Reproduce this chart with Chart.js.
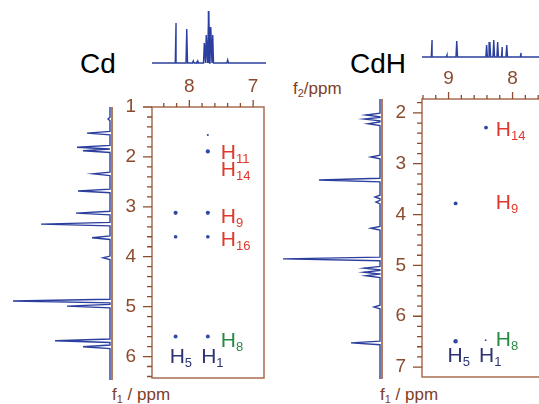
<!DOCTYPE html>
<html lang="en">
<head>
    <meta charset="UTF-8">
    <title>Cd / CdH 2D NMR</title>
    <script src="https://cdn.jsdelivr.net/npm/chart.js@4.4.0/dist/chart.umd.min.js"></script>
    <style>
        html, body {
            margin: 0;
            padding: 0;
            width: 539px;
            height: 404px;
            overflow: hidden;
            background: #fff;
            font-family: "Liberation Sans", Arial, Helvetica, sans-serif;
        }
        canvas, .txt {
            position: absolute;
        }
        .txt {
            line-height: 1;
            white-space: nowrap;
        }
        .title {
            font-size: 28px;
            color: #000;
        }
        .axis-title {
            font-size: 17px;
            color: #7d4026;
        }
        .axis-title sub {
            font-size: 11px;
            vertical-align: -3px;
        }
    </style>
</head>
<body>
    <div class="txt title" style="left:80px; top:50px;">Cd</div>
    <div class="txt title" style="left:350px; top:50px;">CdH</div>
    <div class="txt axis-title" style="left:293px; top:80px;">f<sub>2</sub>/ppm</div>
    <div class="txt axis-title" style="left:112px; top:386px;">f<sub>1</sub> / ppm</div>
    <div class="txt axis-title" style="left:380px; top:386px;">f<sub>1</sub> / ppm</div>

    <script>
        // ---- Cd panel ----
        var cdF2Range = [6.83, 8.585];
        var cdF1Range = [1, 6.43];
        var cdF2Ticks = [7, 8];
        var cdF1Ticks = [1, 2, 3, 4, 5, 6];

        // 1D projection along f2 (top)
        var cdTopShift = [8.215, 8.05, 7.95, 7.88, 7.78, 7.75, 7.72, 7.71, 7.68, 7.65, 7.42];
        var cdTopInt = [40, 34, 2, 2, 20, 28, 40, 52, 36, 28, 3];
        // 1D projection along f1 (left)
        var cdSideShift = [1.24, 1.52, 1.80, 1.87, 2.33, 2.67, 3.11, 3.33, 3.60, 4.00, 4.86, 4.96, 5.65, 5.77];
        var cdSideInt = [2, 23, 33, 27, 17, 32, 34, 69, 18, 7, 97, 43, 55, 27];

        // cross peaks
        var cdCrossF2 = [7.71, 7.71, 8.215, 7.71, 8.215, 7.71, 8.215, 7.71];
        var cdCrossF1 = [1.56, 1.89, 3.12, 3.12, 3.60, 3.60, 5.60, 5.60];
        var cdCrossInt = [0.2, 1, 1, 1, 0.8, 0.8, 0.9, 0.9];

        // assignments
        var cdLabelSub = ['11', '14', '9', '16', '8', '5', '1'];
        var cdLabelF2 = [7.508, 7.508, 7.508, 7.508, 7.508, 8.308, 7.815];
        var cdLabelF1 = [2.05, 2.39, 3.32, 3.78, 5.80, 6.13, 6.13];
        var cdLabelKind = ['red', 'red', 'red', 'red', 'green', 'navy', 'navy'];

        // ---- CdH panel ----
        var cdhF2Range = [7.29, 9.415];
        var cdhF1Range = [1.727, 7.195];
        var cdhF2Ticks = [8, 9];
        var cdhF1Ticks = [2, 3, 4, 5, 6, 7];

        var cdhTopShift = [9.26, 9.03, 8.88, 8.42, 8.37, 8.31, 8.25, 8.18, 8.11, 7.89];
        var cdhTopInt = [17, 2, 16, 12, 15, 17, 15, 10, 12, 4];
        var cdhSideShift = [2.04, 2.12, 2.21, 2.86, 3.31, 3.64, 3.74, 4.25, 4.85, 5.03, 5.11, 5.18, 5.79, 6.49];
        var cdhSideInt = [14, 16, 12, 9, 61, 5, 4, 9, 97, 16, 16, 14, 6, 29];

        var cdhCrossF2 = [8.415, 8.89, 8.89, 8.42];
        var cdhCrossF1 = [2.29, 3.78, 6.49, 6.47];
        var cdhCrossInt = [0.9, 0.9, 1.1, 0.1];

        var cdhLabelSub = ['14', '9', '8', '5', '1'];
        var cdhLabelF2 = [8.262, 8.262, 8.262, 9.015, 8.523];
        var cdhLabelF1 = [2.45, 3.90, 6.59, 6.90, 6.90];
        var cdhLabelKind = ['red', 'red', 'green', 'navy', 'navy'];

        var BROWN = '#8b4b2d';
        var SPINE = '#b07a5e';
        var BLUE = '#2c3f9e';
        var DOT = '#2f49a5';
        var LABEL_COLORS = { red: '#e0382c', green: '#2a8a45', navy: '#2c3472' };
        var FONT = '"Liberation Sans", Arial, Helvetica, sans-serif';

        function makeCanvas(left, top, w, h) {
            var c = document.createElement('canvas');
            c.width = w;
            c.height = h;
            c.style.left = left + 'px';
            c.style.top = top + 'px';
            c.style.width = w + 'px';
            c.style.height = h + 'px';
            document.body.appendChild(c);
            return c;
        }

        function minorTicks(range) {
            var out = [];
            var start = Math.ceil(range[0] / 0.2 - 1e-6);
            var end = Math.floor(range[1] / 0.2 + 1e-6);
            for (var i = start; i <= end; i++) {
                out.push({ value: Math.round(i * 2) / 10 });
            }
            return out;
        }

        function isMajor(v, majors) {
            return majors.some(function (m) { return Math.abs(m - v) < 1e-6; });
        }

        // frame, tick marks and H labels of a 2D panel
        function panelPlugin(f2Ticks, f1Ticks, subs, f2s, f1s, kinds) {
            return {
                id: 'panel',
                afterDraw: function (chart) {
                    var ctx = chart.ctx, a = chart.chartArea;
                    var xs = chart.scales.x, ys = chart.scales.y;
                    ctx.save();
                    ctx.strokeStyle = '#a86d52';
                    ctx.lineWidth = 1.5;
                    ctx.strokeRect(a.left, a.top, a.right - a.left, a.bottom - a.top);

                    ctx.strokeStyle = BROWN;
                    ctx.lineWidth = 1.3;
                    ctx.beginPath();
                    xs.ticks.forEach(function (t) {
                        var px = xs.getPixelForValue(t.value);
                        var len = isMajor(t.value, f2Ticks) ? 7 : 4;
                        ctx.moveTo(px, a.top);
                        ctx.lineTo(px, a.top - len);
                    });
                    ys.ticks.forEach(function (t) {
                        var py = ys.getPixelForValue(t.value);
                        var len = isMajor(t.value, f1Ticks) ? 9 : 5;
                        ctx.moveTo(a.left, py);
                        ctx.lineTo(a.left - len, py);
                    });
                    ctx.stroke();

                    ctx.textBaseline = 'alphabetic';
                    ctx.textAlign = 'left';
                    for (var i = 0; i < subs.length; i++) {
                        var x = xs.getPixelForValue(f2s[i]);
                        var y = ys.getPixelForValue(f1s[i]);
                        ctx.fillStyle = LABEL_COLORS[kinds[i]];
                        ctx.font = '21px ' + FONT;
                        ctx.fillText('H', x, y);
                        var w = ctx.measureText('H').width;
                        ctx.font = '13px ' + FONT;
                        ctx.fillText(subs[i], x + w, y + 4);
                    }
                    ctx.restore();
                }
            };
        }

        function panel2D(canvas, f2Range, f1Range, f2Ticks, f1Ticks, crossF2, crossF1, crossInt, plugin) {
            var pts = crossF2.map(function (v, i) {
                return { x: v, y: crossF1[i], w: crossInt[i] };
            });
            var tickFont = { family: FONT, size: 19 };
            return new Chart(canvas, {
                type: 'scatter',
                data: {
                    datasets: [{
                        data: pts,
                        backgroundColor: DOT,
                        borderWidth: 0,
                        pointRadius: function (c) { return 0.8 + 1.3 * c.raw.w; }
                    }]
                },
                options: {
                    responsive: false,
                    animation: false,
                    layout: { padding: { top: 0, left: 0, right: 2, bottom: 2 } },
                    plugins: { legend: { display: false }, tooltip: { enabled: false } },
                    scales: {
                        x: {
                            type: 'linear',
                            position: 'top',
                            reverse: true,
                            min: f2Range[0],
                            max: f2Range[1],
                            grid: { display: false, drawTicks: false },
                            border: { display: false },
                            afterBuildTicks: function (s) { s.ticks = minorTicks(f2Range); },
                            afterFit: function (s) {
                                s.height = 32;
                                s.paddingLeft = 0;
                                s.paddingRight = 0;
                            },
                            ticks: {
                                autoSkip: false,
                                maxRotation: 0,
                                padding: 9,
                                color: BROWN,
                                font: tickFont,
                                callback: function (v) { return isMajor(v, f2Ticks) ? String(Math.round(v)) : ''; }
                            }
                        },
                        y: {
                            type: 'linear',
                            position: 'left',
                            reverse: true,
                            min: f1Range[0],
                            max: f1Range[1],
                            grid: { display: false, drawTicks: false },
                            border: { display: false },
                            afterBuildTicks: function (s) { s.ticks = minorTicks(f1Range); },
                            afterFit: function (s) {
                                s.width = 42;
                                s.paddingTop = 0;
                                s.paddingBottom = 0;
                            },
                            ticks: {
                                autoSkip: false,
                                padding: 16,
                                color: BROWN,
                                font: tickFont,
                                callback: function (v) { return isMajor(v, f1Ticks) ? String(Math.round(v)) : ''; }
                            }
                        }
                    }
                },
                plugins: [plugin]
            });
        }

        // stick-like peaks built from the read positions / heights
        function peakLine(shifts, ints, range, half, vertical) {
            var order = shifts.map(function (s, i) { return i; }).sort(function (a, b) { return shifts[a] - shifts[b]; });
            var pts = [[range[0], 0]];
            order.forEach(function (i) {
                pts.push([shifts[i] - half, 0], [shifts[i], ints[i]], [shifts[i] + half, 0]);
            });
            pts.push([range[1], 0]);
            return pts.map(function (p) {
                return vertical ? { x: p[1], y: p[0] } : { x: p[0], y: p[1] };
            });
        }

        var spineLine = {
            id: 'spine',
            afterDraw: function (chart) {
                var ctx = chart.ctx, a = chart.chartArea;
                ctx.save();
                ctx.strokeStyle = SPINE;
                ctx.lineWidth = 2;
                ctx.beginPath();
                ctx.moveTo(a.right - 1, a.top);
                ctx.lineTo(a.right - 1, a.bottom);
                ctx.stroke();
                ctx.restore();
            }
        };

        function spectrum(canvas, data, xOpt, yOpt, extra) {
            return new Chart(canvas, {
                type: 'scatter',
                data: {
                    datasets: [{
                        data: data,
                        showLine: true,
                        borderColor: BLUE,
                        borderWidth: 1.4,
                        pointRadius: 0,
                        clip: 4
                    }]
                },
                options: {
                    responsive: false,
                    animation: false,
                    layout: { padding: 0 },
                    plugins: { legend: { display: false }, tooltip: { enabled: false } },
                    scales: {
                        x: Object.assign({ type: 'linear', display: false }, xOpt),
                        y: Object.assign({ type: 'linear', display: false }, yOpt)
                    }
                },
                plugins: extra ? [extra] : []
            });
        }

        // Cd panel
        panel2D(makeCanvas(110, 75, 158, 307), cdF2Range, cdF1Range, cdF2Ticks, cdF1Ticks,
            cdCrossF2, cdCrossF1, cdCrossInt,
            panelPlugin(cdF2Ticks, cdF1Ticks, cdLabelSub, cdLabelF2, cdLabelF1, cdLabelKind));

        spectrum(makeCanvas(152, 8, 114, 56),
            peakLine(cdTopShift, cdTopInt, cdF2Range, 0.012, false),
            { min: cdF2Range[0], max: cdF2Range[1], reverse: true },
            { min: -1, max: 55 });

        spectrum(makeCanvas(4, 107, 109, 273),
            peakLine(cdSideShift, cdSideInt, cdF1Range, 0.035, true),
            { min: -3, max: 106, reverse: true },
            { min: cdF1Range[0], max: cdF1Range[1], reverse: true },
            spineLine);

        // CdH panel
        panel2D(makeCanvas(380, 67, 182, 314), cdhF2Range, cdhF1Range, cdhF2Ticks, cdhF1Ticks,
            cdhCrossF2, cdhCrossF1, cdhCrossInt,
            panelPlugin(cdhF2Ticks, cdhF1Ticks, cdhLabelSub, cdhLabelF2, cdhLabelF1, cdhLabelKind));

        spectrum(makeCanvas(422, 32, 138, 26),
            peakLine(cdhTopShift, cdhTopInt, cdhF2Range, 0.012, false),
            { min: cdhF2Range[0], max: cdhF2Range[1], reverse: true },
            { min: -1, max: 25 });

        spectrum(makeCanvas(282, 99, 101, 280),
            peakLine(cdhSideShift, cdhSideInt, cdhF1Range, 0.035, true),
            { min: -3, max: 98, reverse: true },
            { min: cdhF1Range[0], max: cdhF1Range[1], reverse: true },
            spineLine);
    </script>
</body>
</html>
